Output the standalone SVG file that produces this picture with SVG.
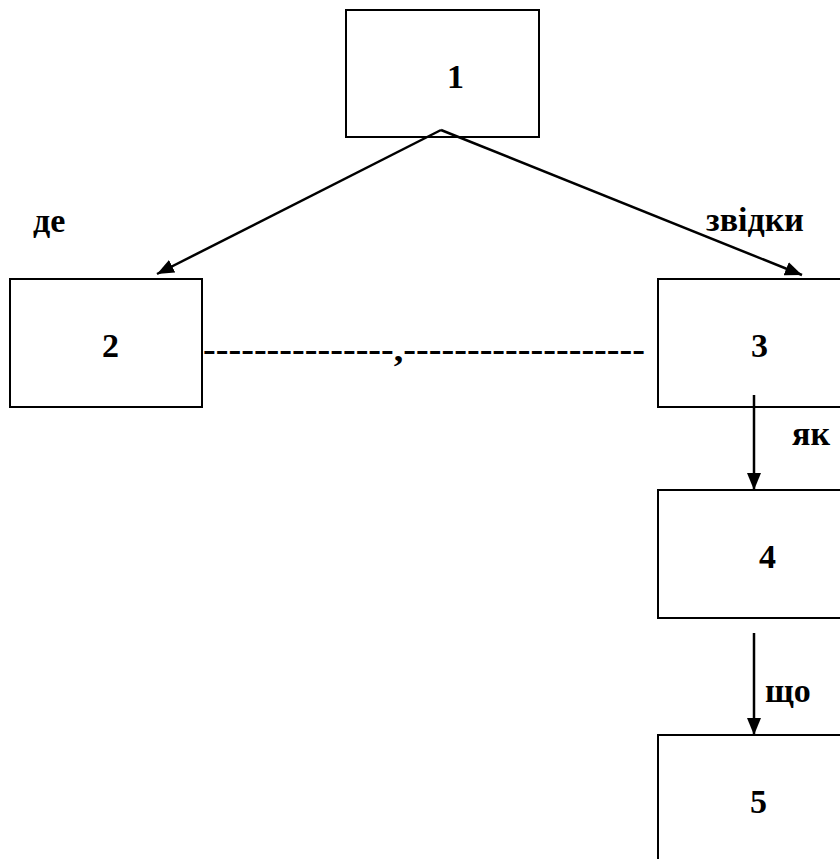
<svg xmlns="http://www.w3.org/2000/svg" width="840" height="859" viewBox="0 0 840 859">
<style>
.box{fill:none;stroke:#000;stroke-width:2}
.t{font-family:"Liberation Serif","Times New Roman",serif;font-weight:bold;font-size:34px;fill:#000}
.c{stroke:#000;stroke-width:2.5;fill:none}
</style>
<defs>
<marker id="ah" markerWidth="17" markerHeight="14" refX="10" refY="5" orient="auto" markerUnits="userSpaceOnUse" viewBox="0 0 10 10" preserveAspectRatio="none">
<path d="M0,0 L10,5 L0,10 z" fill="#000"/>
</marker>
</defs>
<rect width="840" height="859" fill="#fff"/>
<g id="n1"><rect class="box" x="346" y="10" width="193" height="127"/><text class="t" x="447" y="88">1</text></g>
<g id="n2"><rect class="box" x="10" y="279" width="192" height="128"/><text class="t" x="102" y="357">2</text></g>
<g id="n3"><rect class="box" x="658" y="279" width="200" height="128"/><text class="t" x="751" y="357">3</text></g>
<g id="n4"><rect class="box" x="658" y="490" width="200" height="128"/><text class="t" x="759" y="568">4</text></g>
<g id="n5"><rect class="box" x="658" y="735" width="200" height="140"/><text class="t" x="750" y="813">5</text></g>
<g id="connectors">
<path class="c" d="M441,130 L157,274" marker-end="url(#ah)"/>
<path class="c" d="M441,130 L802,275" marker-end="url(#ah)"/>
<line class="c" x1="754" y1="395" x2="754" y2="490" marker-end="url(#ah)"/>
<line class="c" x1="754" y1="633" x2="754" y2="735" marker-end="url(#ah)"/>
<text class="t" x="203" y="361" textLength="442" lengthAdjust="spacingAndGlyphs">---------------,-------------------</text>
<text class="t" x="33" y="232">де</text>
<text class="t" x="706" y="231">звідки</text>
<text class="t" x="792" y="445">як</text>
<text class="t" x="765" y="702">що</text>
</g>
</svg>
